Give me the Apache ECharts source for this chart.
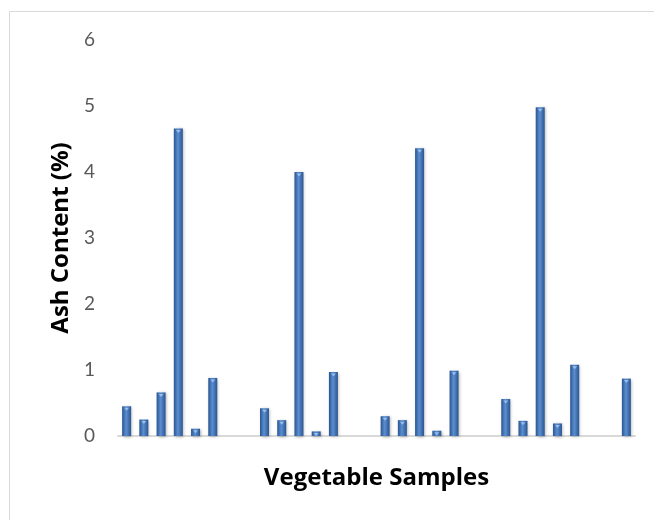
<!DOCTYPE html>
<html><head><meta charset="utf-8">
<script src="https://cdn.jsdelivr.net/npm/echarts@6/dist/echarts.min.js"></script>
<style>html,body{margin:0;padding:0;background:#fff}#c{width:654px;height:520px}</style>
</head><body><div id="c"></div>
<script>
var categories = ['1','2','3','4','5','6','7','8','9','10','11','12','13','14','15','16','17','18','19','20','21','22','23','24','25','26','27','28','29','30'];
var ashValues = [0.45,0.25,0.66,4.66,0.11,0.88,null,null,0.42,0.24,4.0,0.07,0.97,null,null,0.30,0.24,4.36,0.08,0.99,null,null,0.56,0.23,4.98,0.19,1.08,null,null,0.87];
var yTicks = [0,1,2,3,4,5,6];
var xTitle = 'Vegetable Samples';
var yTitle = 'Ash Content (%)';

var chart = echarts.init(document.getElementById('c'));
chart.setOption({
  animation: false,
  backgroundColor: '#fff',
  grid: {left: 118, right: 19, top: 40, bottom: 84},
  graphic: [{type: 'rect', shape: {x: 9.5, y: 11.5, width: 700, height: 600}, style: {fill: 'none', stroke: '#d9d9d9', lineWidth: 1}, silent: true, z: -1}],
  xAxis: {
    type: 'category', data: categories,
    axisLine: {lineStyle: {color: '#d9d9d9', width: 2}},
    axisTick: {show: false}, axisLabel: {show: false},
    name: xTitle, nameLocation: 'middle', nameGap: 30,
    nameTextStyle: {fontFamily: 'Open Sans', fontWeight: 'bold', fontSize: 24, color: '#000'}
  },
  yAxis: {
    type: 'value', min: yTicks[0], max: yTicks[yTicks.length-1], interval: 1,
    axisLine: {show: false}, axisTick: {show: false}, splitLine: {show: false},
    axisLabel: {margin: 23, fontFamily: 'Lato', fontSize: 19, color: '#595959'},
    name: yTitle, nameLocation: 'middle', nameGap: 45, nameRotate: 90,
    nameTextStyle: {fontFamily: 'Open Sans', fontWeight: 'bold', fontSize: 24, color: '#000'}
  },
  series: [{
    type: 'bar', data: ashValues, barWidth: 9,
    itemStyle: {
      color: new echarts.graphic.LinearGradient(0, 0, 1, 0, [
        {offset: 0, color: '#2a5591'}, {offset: 0.45, color: '#5b8ed0'}, {offset: 1, color: '#2a5591'}]),
      shadowBlur: 3, shadowColor: 'rgba(0,0,0,0.3)', shadowOffsetX: 1, shadowOffsetY: 1
    }
  }, {
    type: 'scatter', data: ashValues, symbol: 'path://M0,0 L10,0 L5,6 Z', symbolSize: [5, 3], symbolOffset: [0, 3],
    itemStyle: {color: '#a9cbf2'}, z: 3, silent: true
  }]
});
</script></body></html>
